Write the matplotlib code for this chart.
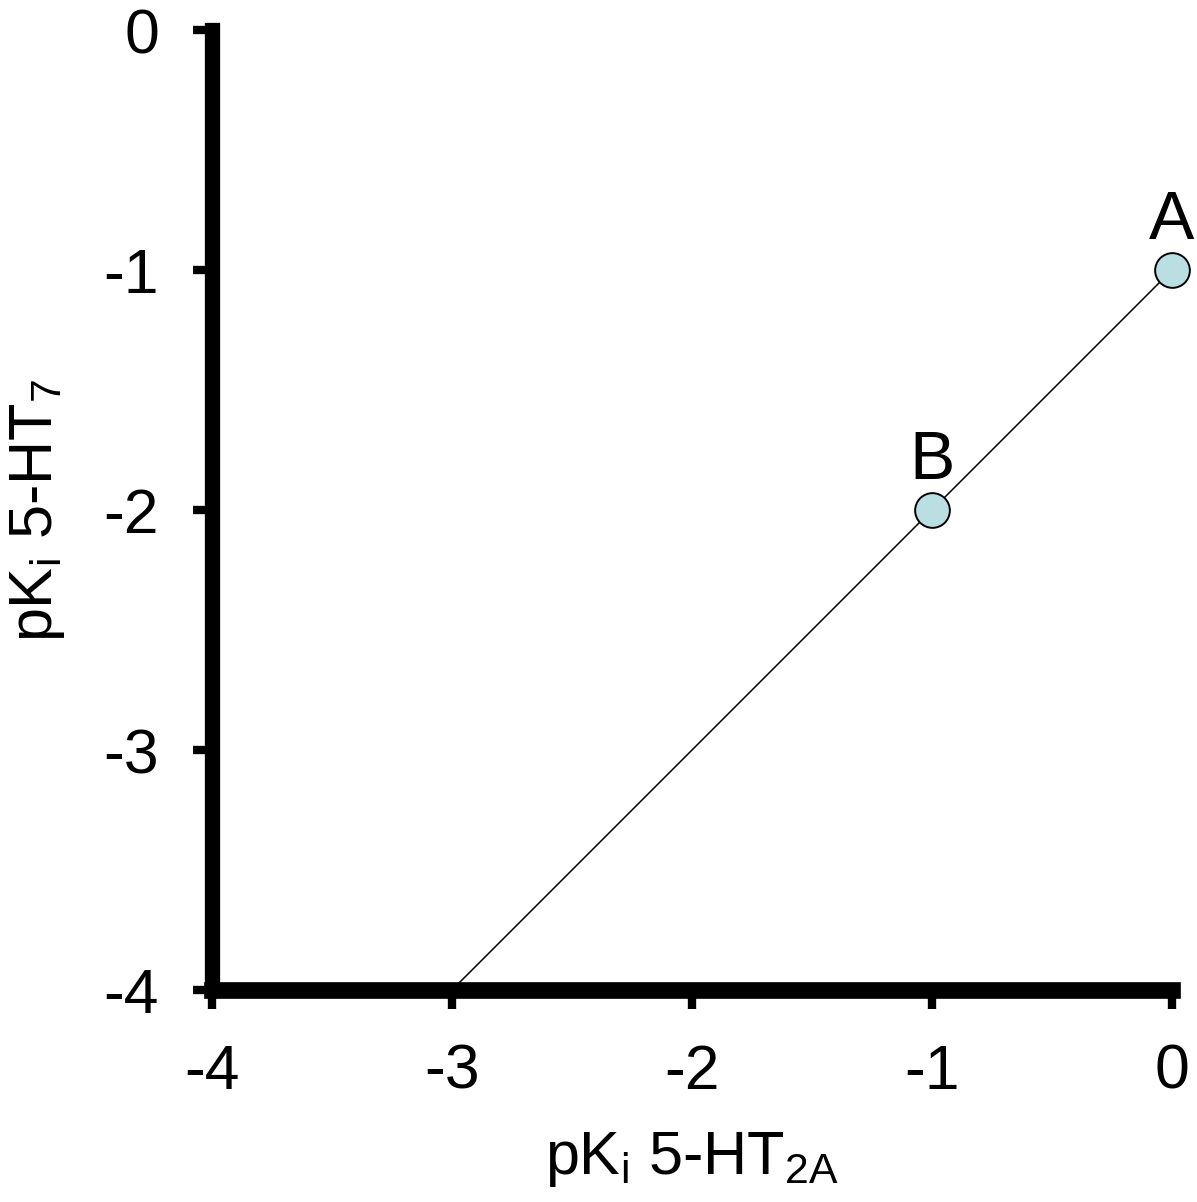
import numpy as np
import matplotlib.pyplot as plt
from matplotlib import font_manager

plt.rcParams['font.family'] = ['Liberation Sans', 'DejaVu Sans']
plt.rcParams['mathtext.default'] = 'regular'

# data
line_x = [-3, 0]
line_y = [-4, -1]
point_x = [0, -1]
point_y = [-1, -2]
point_labels = ['A', 'B']
xticks = [-4, -3, -2, -1, 0]
yticks = [-4, -3, -2, -1, 0]

fig = plt.figure(figsize=(11.97, 12.02), dpi=100)
ax = fig.add_axes([212 / 1197, 1 - 990 / 1202, 960 / 1197, 960 / 1202])

ax.plot(line_x, line_y, color='black', linewidth=1.1, zorder=2)
ax.plot(point_x, point_y, 'o', markersize=25, markerfacecolor='#b9dfe2',
        markeredgecolor='black', markeredgewidth=1.4, clip_on=False, zorder=3)
for x, y, lab in zip(point_x, point_y, point_labels):
    ax.annotate(lab, (x, y), xytext=(0, 12), textcoords='offset points',
                ha='center', va='bottom', fontsize=49)

ax.set_xlim(-4, 0)
ax.set_ylim(-4, 0)
ax.set_xticks(xticks)
ax.set_yticks(yticks)
ax.set_xticklabels([str(t) for t in xticks])
ax.set_yticklabels([str(t) for t in yticks])

for s in ['top', 'right']:
    ax.spines[s].set_visible(False)
ax.spines['left'].set_linewidth(11)
ax.spines['bottom'].set_linewidth(12)
ax.spines['left'].set_capstyle('projecting')
ax.spines['bottom'].set_capstyle('projecting')
ax.tick_params(axis='both', width=6, length=14, labelsize=45, direction='out')
ax.tick_params(axis='y', pad=24)
ax.tick_params(axis='x', pad=24)

# top "0" label is drawn in a narrower face in the reference
names = {f.name for f in font_manager.fontManager.ttflist}
top = ax.get_yticklabels()[-1]
if 'Liberation Sans Narrow' in names:
    top.set_family('Liberation Sans Narrow')
top.set_fontsize(45)

ax.set_xlabel(r'pK$_{i}$ 5-HT$_{2A}$', fontsize=44, labelpad=20)
ax.set_ylabel(r'pK$_{i}$ 5-HT$_{7}$', fontsize=44, labelpad=26)

fig.savefig('out.png', dpi=100)
